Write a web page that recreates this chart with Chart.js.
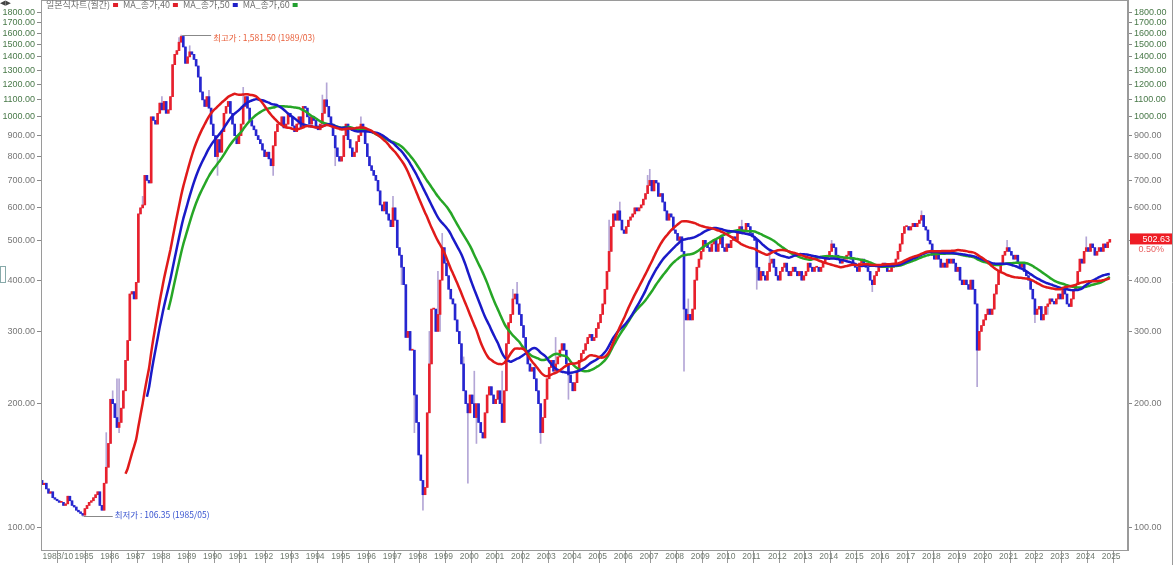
<!DOCTYPE html>
<html><head><meta charset="utf-8">
<script src="https://cdn.jsdelivr.net/npm/chart.js@4.4.1/dist/chart.umd.min.js"></script>
<style>html,body{margin:0;padding:0;background:#fff;overflow:hidden}#wrap{width:1173px;height:565px;position:relative}</style>
</head><body><div id="wrap"><canvas id="c" width="1173" height="565"></canvas></div>
<script>
// ---- DATA (monthly closes) ----
const startYear = 1983, startMonth = 10;
const firstOpen = 130;
const closes1983to1989 = [127,128,124,
 121,122,118,117,116,115,115,113,114,119,116,113,
 112,110,109,108,107,111,113,115,116,118,120,122,
 113,110,128,140,160,205,200,185,175,180,195,215,
 255,285,370,375,360,395,580,600,610,720,700,690,
 1000,980,960,1020,1080,1040,1090,1020,1040,1120,1340,1420,
 1450,1520,1570,1480,1350,1400,1440,1420,1380,1330,1250,1150];
const closes1990s = [
 1100,1060,1120,1050,960,900,800,880,820,920,1020,1060,
 1090,1020,960,900,860,900,960,1060,1120,1050,980,950,
 930,900,880,860,830,800,820,790,760,850,920,960,
 960,1000,940,960,1020,1000,950,920,960,1000,940,1060,
 1050,1000,960,1000,980,950,930,960,1020,1100,1060,1000,
 960,900,840,800,780,800,900,960,880,840,800,820,
 870,900,960,930,860,800,760,740,720,700,660,610,
 590,620,580,560,540,600,560,480,460,430,390,290,
 300,270,270,210,180,150,130,120,125,190,250,340,
 340,300,330,400,480,440,410,380,360,350,320,300];
const closes2000s = [
 280,250,215,200,190,210,200,185,200,180,170,165,
 190,210,220,210,200,205,215,200,180,215,280,315,
 330,360,370,350,330,310,290,270,250,240,245,230,
 215,200,170,185,205,230,245,255,240,250,260,270,
 280,270,250,235,225,215,225,240,255,265,270,280,
 290,295,285,290,305,315,330,350,380,420,470,540,
 580,560,590,560,530,520,540,560,570,580,600,590,
 600,610,630,650,680,700,660,700,690,640,650,620,
 590,560,580,570,530,520,500,510,470,340,320,330,
 320,340,400,430,450,470,500,490,480,470,490,500];
const closes2010s = [
 470,490,510,480,470,490,480,500,510,500,520,540,
 520,530,550,540,520,510,500,430,400,420,410,400,
 420,440,450,430,410,400,420,430,440,420,410,420,
 430,420,410,420,400,410,420,440,430,420,430,430,
 420,430,440,450,460,470,490,480,460,450,440,450,
 450,460,470,450,440,430,420,440,450,440,430,420,
 400,390,410,420,430,430,440,430,420,420,430,440,
 450,470,490,520,540,540,530,540,550,540,550,560,
 575,540,530,500,490,460,450,460,450,430,440,430,
 450,440,450,440,420,430,400,390,400,390,380,400];
const closes2020s = [
 380,350,270,300,310,320,330,340,330,340,370,390,
 420,440,460,470,480,470,460,450,460,440,430,440,
 420,410,400,380,360,330,340,345,320,330,345,350,
 360,355,350,360,370,360,380,370,350,345,360,380,
 390,420,450,440,470,480,470,490,480,460,470,480,
 470,490,480,495,502.63];
// visible wick extremes: [monthIndex, price]
const wickHighs = [[65,1581.5],[64,1560],[69,1490],[30,170],[35,230],[47,640],[56,1120],[78,1160],[94,1180],
 [131,1130],[133,1210],[149,1000],[164,640],[181,300],[185,420],[187,520],[197,260],[202,240],[215,240],
 [220,380],[222,395],[240,290],[265,560],[270,620],[283,720],[284,745],[302,360],[327,560],[340,470],
 [369,500],[411,590],[451,500],[488,510],[33,215],[36,230]];
const wickLows = [[19,106.35],[36,170],[82,720],[108,720],[137,760],[168,390],[174,170],[178,110],[186,300],
 [199,128],[203,160],[207,165],[233,160],[246,205],[300,240],[334,380],[388,375],[437,220],[464,315],[470,330]];
const maPeriods = [40, 50, 60];
const yTickValues = [100,200,300,400,500,600,700,800,900,1000,1100,1200,1300,1400,1500,1600,1700,1800];
const xTickLabels = ['1983/10','1985','1986','1987','1988','1989','1990','1991','1992','1993','1994','1995','1996','1997','1998','1999','2000','2001','2002','2003','2004','2005','2006','2007','2008','2009','2010','2011','2012','2013','2014','2015','2016','2017','2018','2019','2020','2021','2022','2023','2024','2025'];
const legendItems = [['일본식차트(월간)','#e0202a'],['MA_종가,40','#e0202a'],['MA_종가,50','#2020c8'],['MA_종가,60','#22a030']];
const highNote = {month:65, price:1581.5, text:'최고가 : 1,581.50 (1989/03)'};
const lowNote = {month:19, price:106.35, text:'최저가 : 106.35 (1985/05)'};
const lastChange = '0.50%';

// ---- build ----
const closes = [].concat(closes1983to1989, closes1990s, closes2000s, closes2010s, closes2020s);
const N = closes.length;
function monthIndexOf(label){ // 'YYYY/MM' or 'YYYY'
  const p = label.split('/'); const y = +p[0]; const m = p[1] ? +p[1] : 1;
  return (y - startYear) * 12 + (m - startMonth);
}
const xTickValues = xTickLabels.map(l => monthIndexOf(l) - 0.5);
const opens = closes.map((c,i)=> i===0 ? firstOpen : closes[i-1]);
const hiMap = Object.fromEntries(wickHighs), loMap = Object.fromEntries(wickLows);
const UP='#e8202c', DOWN='#2626d0';
const bodyData = closes.map((c,i)=>({x:i, y:[opens[i], c]}));
const bodyColors = closes.map((c,i)=> c>=opens[i] ? UP : DOWN);
const wickData = closes.map((c,i)=>{
  const hi = Math.max(opens[i], c, hiMap[i]||0);
  const lo = Math.min(opens[i], c, loMap[i]||Infinity);
  return {x:i, y:[lo, hi]};
});
function sma(p){
  return closes.map((c,i)=>{
    if(i<p-1) return {x:i,y:null};
    let s=0; for(let k=i-p+1;k<=i;k++) s+=closes[k];
    return {x:i,y:s/p};
  });
}
const maColors = ['#e01a1a','#1a1ac8','#26a626'];

const Y_MIN=88, Y_MAX=1926;
function noPad(s){ s.paddingTop=0; s.paddingBottom=0; s.paddingLeft=0; s.paddingRight=0; }
function yAxis(position){
  return {
    type:'logarithmic', position, min:Y_MIN, max:Y_MAX, bounds:'data',
    afterBuildTicks: s => { s.ticks = yTickValues.map(v=>({value:v, major:false})); },
    afterFit: s => { s.width = position==='left' ? 41 : 45; noPad(s); },
    ticks:{ autoSkip:false, padding:2, font:{family:'"Liberation Sans", Arial, sans-serif', size:9},
      color: c => (c.tick && c.tick.value>=1000) ? '#4a7a4a' : '#777',
      callback: v => Number(v).toFixed(2) },
    grid:{ drawOnChartArea:false, drawTicks:true, tickLength:4, color:'#888' },
    border:{ display:true, color:'#9a9a9a', width:1 }
  };
}

const deco = {
  id:'deco',
  afterDraw(chart){
    const {ctx, chartArea:a, scales:{x, y}} = chart;
    ctx.save();
    // frame
    ctx.strokeStyle='#9a9a9a'; ctx.lineWidth=1;
    ctx.strokeRect(a.left+0.5, a.top+0.5, a.right-a.left-1, a.bottom-a.top);
    ctx.beginPath(); ctx.moveTo(1172.5,0); ctx.lineTo(1172.5,565); ctx.stroke();
    // top-left widget
    ctx.fillStyle='#444'; ctx.font='7px "DejaVu Sans"'; ctx.textBaseline='top';
    ctx.fillText('◀▶',0,0);
    ctx.strokeStyle='#8aa'; ctx.strokeRect(0.5,266.5,5,16);
    // legend
    ctx.font='9px "Noto Sans CJK KR", sans-serif'; ctx.textBaseline='middle';
    let lx=46; const ly=5;
    legendItems.forEach(([t,col])=>{
      ctx.fillStyle='#6f6f6f'; ctx.fillText(t,lx,ly); lx+=ctx.measureText(t).width+3;
      ctx.fillStyle=col; ctx.fillRect(lx,ly-2,5,4); lx+=10;
    });
    // high note
    ctx.font='8.5px "Noto Sans CJK KR", sans-serif';
    let hx=x.getPixelForValue(highNote.month), hy=Math.round(y.getPixelForValue(highNote.price))+0.5;
    ctx.strokeStyle='#888'; ctx.beginPath(); ctx.moveTo(hx+1,hy); ctx.lineTo(hx+30,hy); ctx.stroke();
    ctx.fillStyle='#e8603c'; ctx.fillText(highNote.text, hx+32, hy+2);
    // low note
    let lx2=x.getPixelForValue(lowNote.month), ly2=Math.round(y.getPixelForValue(lowNote.price))+0.5;
    ctx.beginPath(); ctx.moveTo(lx2+1,ly2); ctx.lineTo(lx2+30,ly2); ctx.stroke();
    ctx.fillStyle='#3a55d0'; ctx.fillText(lowNote.text, lx2+32, ly2-2);
    // last price tag
    const last = closes[N-1];
    const py = y.getPixelForValue(last);
    ctx.fillStyle='#ee1c24'; ctx.fillRect(a.right+2, py-6, 42, 11);
    ctx.fillStyle='#fff'; ctx.font='9px "Liberation Sans", Arial, sans-serif'; ctx.textAlign='right';
    ctx.fillText(last.toFixed(2), a.right+42, py);
    ctx.fillStyle='#e86060'; ctx.fillText(lastChange, a.right+36, py+10);
    ctx.restore();
  }
};

new Chart(document.getElementById('c'), {
  type:'bar',
  data:{ datasets:[
    ...maPeriods.map((p,k)=>({type:'line', label:'MA'+p, data:sma(p), borderColor:maColors[k], borderWidth:2.5, pointRadius:0, fill:false, spanGaps:false, order:0, tension:0.2})),
    {type:'bar', label:'body', data:bodyData, backgroundColor:bodyColors, barThickness:2, minBarLength:1, grouped:false, order:2},
    {type:'bar', label:'wick', data:wickData, backgroundColor:'#b4a6d6', barThickness:1, grouped:false, order:3}
  ]},
  options:{
    responsive:false, animation:false, devicePixelRatio:1,
    layout:{padding:0},
    plugins:{legend:{display:false}, tooltip:{enabled:false}},
    scales:{
      x:{ type:'linear', min:-0.5, max:507.5, offset:false, bounds:'data',
        afterBuildTicks: s => { s.ticks = xTickValues.map(v=>({value:v})); },
        afterFit: s => { s.height = 15; noPad(s); },
        ticks:{ autoSkip:false, maxRotation:0, align:'start', labelOffset:1.5, padding:-11, color:'#6f7a6f',
          font:{family:'"Liberation Sans", Arial, sans-serif', size:8.5},
          callback:(v,i)=> xTickLabels[i] },
        grid:{ drawOnChartArea:false, drawTicks:true, tickLength:13, color:'#999' },
        border:{display:true, color:'#9a9a9a'}
      },
      y: yAxis('left'),
      y2: yAxis('right')
    }
  },
  plugins:[deco]
});
</script></body></html>
